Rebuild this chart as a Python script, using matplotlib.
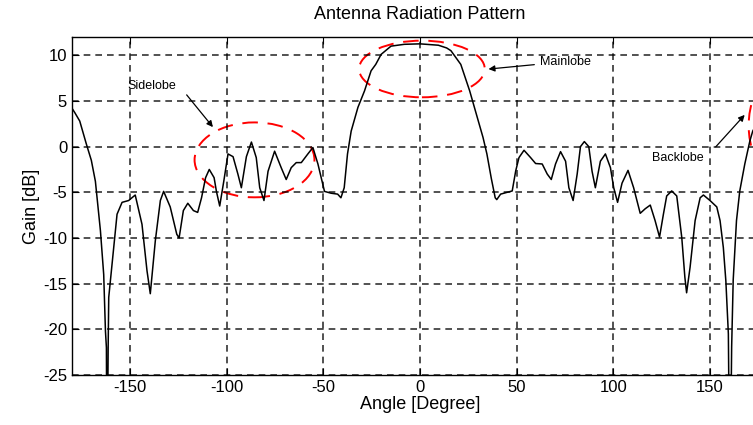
import matplotlib.pyplot as plt
from matplotlib.patches import Ellipse

# gain pattern (deg, dB)
angle = [-180, -178.5, -176, -172.6, -170, -167.9, -165.3, -163.6, -162.7, -162.2,
         -161.9, -161.3, -161, -159.3, -157.9, -156.7, -154.1, -150.7, -147.3, -143.8,
         -141.2, -139.5, -136.9, -134.3, -132.6, -129.2, -125.8, -124.6, -122.4, -120.1,
         -117.2, -115, -113, -110.9, -109, -106.5, -105.3, -103.6, -101.5, -99.3,
         -96.7, -94.2, -92.4, -89.8, -87.2, -84.7, -82.9, -80.7, -78.6, -75.2,
         -71.8, -69.2, -66.6, -64, -61.4, -58, -55.4, -52.8, -49.4, -46,
         -42.6, -40.9, -39.2, -37.5, -35.6, -32.1, -28.7, -25.3, -22.9, -20.1,
         -15, -8.1, 0, 9.5, 13.8, 16, 21.1, 25.7, 29.2, 32.6,
         34.6, 36.9, 38.9, 39.7, 41.7, 45.2, 47.7, 49.5, 51.2, 53.8,
         57.2, 59.8, 63.2, 65.8, 67.9, 70.1, 72.7, 75.3, 77, 79.2,
         81.3, 83, 85, 87.3, 89, 90.7, 93.3, 95.9, 98.5, 100.2,
         102.2, 104.5, 107.6, 110.5, 113.9, 116.5, 119.1, 121.6, 123.9, 125.9,
         127.6, 130.2, 132.8, 135.4, 137, 137.9, 139.7, 142.3, 144.9, 146.6,
         150, 153.5, 155.2, 156.9, 158.2, 159.5, 160.3, 161.2, 162, 163.7,
         165.4, 168, 170.6, 172.1, 176, 180]
gain = [4.2, 3.7, 2.8, 0.3, -1.5, -3.8, -9.2, -14, -20.2, -22,
        -40, -22, -16.5, -12.9, -10, -7.4, -6.1, -5.9, -5.3, -8.5,
        -13.6, -16.1, -10.3, -5.9, -4.9, -6.6, -9.6, -10, -7.0, -6.2,
        -7.0, -7.2, -5.6, -3.4, -2.5, -3.4, -4.9, -6.5, -3.8, -0.8,
        -1.1, -3.0, -4.5, -1.1, 0.5, -1.2, -4.5, -5.9, -2.7, -0.5,
        -2.3, -3.6, -2.3, -1.75, -1.75, -0.8, -0.1, -1.9, -4.9, -5.1,
        -5.2, -5.6, -4.5, -0.8, 1.7, 4.3, 6.1, 8.3, 9.0, 10.1,
        11.0, 11.2, 11.25, 11.1, 10.8, 10.5, 9.0, 6.1, 3.5, 1.0,
        -0.8, -3.5, -5.6, -5.8, -5.2, -5.0, -4.85, -2.66, -1.2, -0.4,
        -1.2, -1.85, -1.9, -3.0, -3.6, -1.9, -0.55, -1.6, -4.5, -5.9,
        -3.0, 0, 0.55, 0, -2.7, -4.5, -1.6, -0.8, -2.3, -4.5,
        -6.1, -4.0, -2.6, -4.5, -7.3, -6.8, -6.4, -8.1, -9.9, -7.4,
        -5.4, -4.85, -5.4, -9.95, -14.3, -16, -13.2, -8.1, -5.6, -5.3,
        -5.9, -6.6, -8.1, -11.05, -14.7, -20.5, -40, -21.9, -14.6, -8.1,
        -4.85, -1.9, 0.6, 1.7, 3.2, 4.2]

xticks = [-150, -100, -50, 0, 50, 100, 150]
yticks = [-25, -20, -15, -10, -5, 0, 5, 10]

plt.rcParams['font.family'] = ['Liberation Sans', 'DejaVu Sans']
plt.rcParams['axes.unicode_minus'] = False

fig = plt.figure(figsize=(7.53, 4.25), dpi=100)
# right edge of the axes falls outside the picture, as in the reference
ax = fig.add_axes([72 / 753, 50 / 425, 696 / 753, 338 / 425])

ax.plot(angle, gain, color='k', lw=1.1)
ax.set_xlim(-180, 180)
ax.set_ylim(-25, 12)
ax.set_xticks(xticks)
ax.set_yticks(yticks)
ax.tick_params(direction='in', top=True, right=True, length=5, labelsize=12)
ax.grid(True, color='k', linestyle=(0, (4, 3)), lw=1.2, alpha=0.8)
for s in ax.spines.values():
    s.set_linewidth(1.0)

ax.set_title('Antenna Radiation Pattern', fontsize=13, pad=13)
ax.set_xlabel('Angle [Degree]', fontsize=13, labelpad=1)
ax.set_ylabel('Gain [dB]', fontsize=13, labelpad=2)

red = dict(fill=False, edgecolor='red', lw=1.4, linestyle=(0, (8, 5)), clip_on=True)
ax.add_patch(Ellipse((-85.6, -1.45), 62, 8.2, **red))
ax.add_patch(Ellipse((1.0, 8.5), 65, 6.2, **red))
ax.add_patch(Ellipse((180, 2.3), 20, 9, **red))

arr = dict(arrowstyle='-|>', color='k', lw=0.9, mutation_scale=9)
ax.text(-151.5, 6.6, 'Sidelobe', fontsize=9, ha='left', va='center')
ax.annotate('', xy=(-106.2, 1.9), xytext=(-121.6, 5.9), arrowprops=arr)
ax.annotate('Mainlobe', xy=(34.0, 8.46), xytext=(62.0, 9.3),
            fontsize=9, ha='left', va='center', arrowprops=arr)
ax.text(120, -1.2, 'Backlobe', fontsize=9, ha='left', va='center')
ax.annotate('', xy=(168.9, 3.7), xytext=(152, -0.25), arrowprops=arr)

fig.savefig('out.png', dpi=100)
